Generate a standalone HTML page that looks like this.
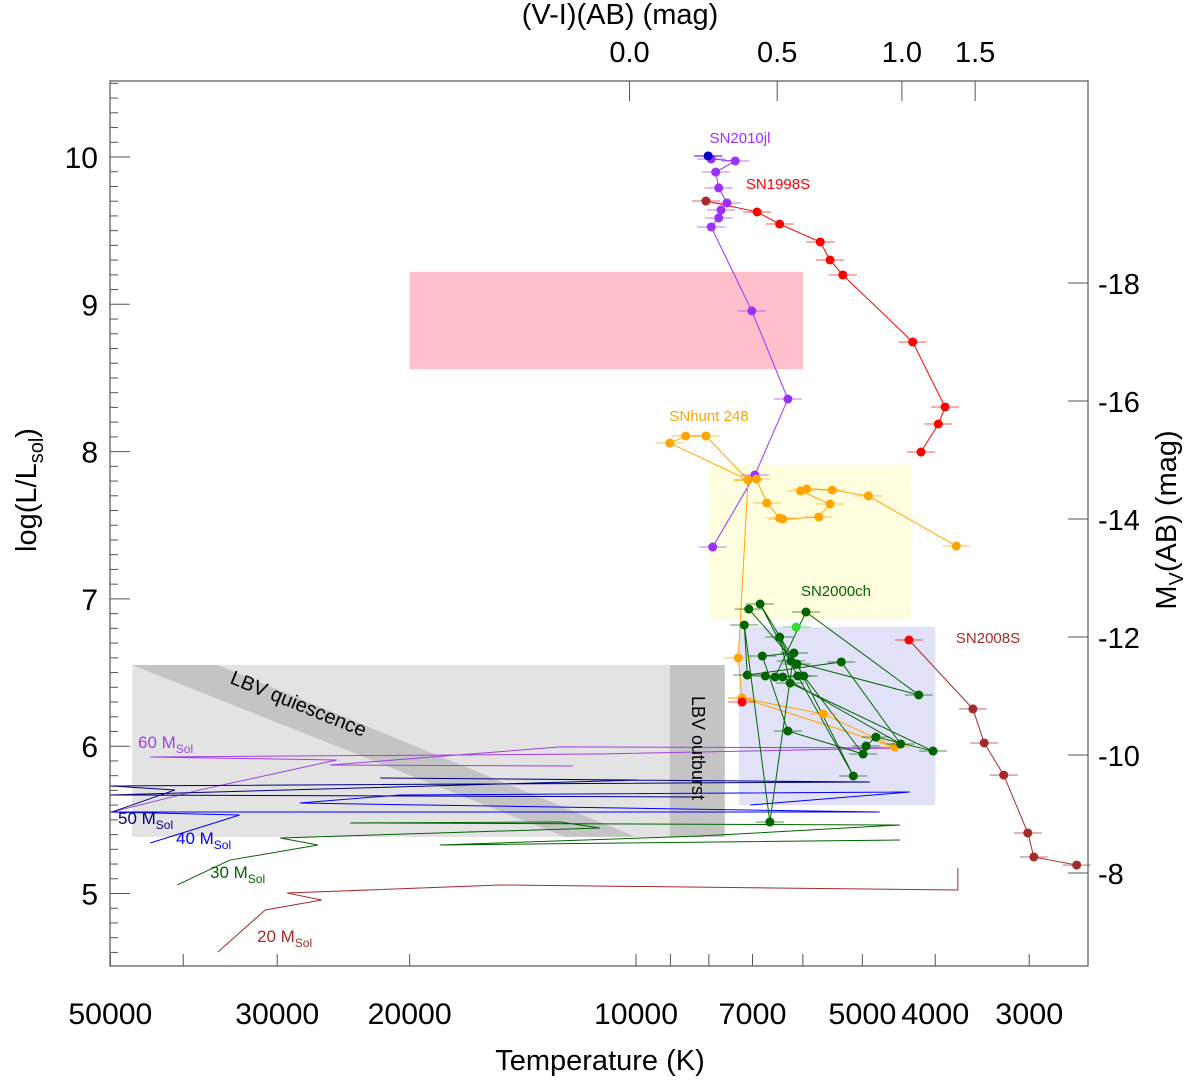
<!DOCTYPE html>
<html><head><meta charset="utf-8"><style>
body{margin:0;background:#fff;}
svg text{font-family:"Liberation Sans",sans-serif;}
</style></head><body>
<svg id="chart" width="1200" height="1081" viewBox="0 0 1200 1081" xmlns="http://www.w3.org/2000/svg">
<g id="regions"></g>
<g id="tracks"></g>
<g id="series"></g>
<g id="axes"></g>
<g id="labels"></g>
</svg>
<script>
// ---- data (log T, log L) ----
const sn2010jlT=[3.904,3.900,3.868,3.894,3.890,3.879,3.887,3.890,3.900,3.846,3.798,3.842,3.898];
const sn2010jlL=[10.007,9.986,9.973,9.898,9.79,9.688,9.64,9.586,9.525,8.955,8.357,7.841,7.352];
const sn1998sT=[3.907,3.839,3.809,3.755,3.742,3.725,3.632,3.589,3.598,3.621];
const sn1998sL=[9.701,9.627,9.545,9.423,9.301,9.199,8.744,8.303,8.187,7.997];
const snhuntT=[3.851,3.955,3.934,3.907,3.851,3.840,3.826,3.809,3.805,3.757,3.742,3.781,3.773,3.739,3.691,3.574];
const snhuntL=[7.807,8.058,8.106,8.106,7.807,7.814,7.651,7.549,7.542,7.556,7.644,7.733,7.746,7.739,7.699,7.359];
const snhunt2T=[3.851,3.864,3.859,3.751,3.656,3.859];
const snhunt2L=[7.807,6.599,6.327,6.219,5.995,6.327];
const sn2000chT=[3.850,3.786,3.711,3.785,3.835,3.777,3.698,3.798,3.832,3.790,3.822,3.856,3.852,3.727,3.648,3.805,3.828,3.815,3.774,3.624,3.794,3.809,3.795,3.605,3.681,3.694];
const sn2000chL=[6.931,6.558,5.798,6.477,6.965,6.477,5.947,6.103,6.612,6.633,5.485,6.823,6.483,6.572,6.015,6.47,6.477,6.47,6.911,6.348,6.578,6.741,6.429,5.967,6.062,6.001];
const sn2000chBrightT=[3.787]; const sn2000chBrightL=[6.809];
const sn2008sT=[3.637,3.552,3.537,3.511,3.479,3.471,3.414];
const sn2008sL=[6.721,6.253,6.022,5.804,5.411,5.248,5.193];
const extraRedT=[3.859]; const extraRedL=[6.30];
// tracks
const trk60T=[4.697,4.580,4.398,4.646,4.048,3.649,4.101,4.407,4.084];
const trk60L=[5.553,5.703,5.906,5.927,5.947,5.988,5.995,5.872,5.866];
const trk50T=[4.697,4.613,4.699,3.689,4.340,3.995,4.699,3.915];
const trk50L=[5.553,5.703,5.730,5.757,5.784,5.770,5.669,5.655];
const trk40T=[4.646,4.527,4.699,3.676,4.447,4.314,3.636,3.848];
const trk40L=[5.343,5.533,5.553,5.553,5.614,5.669,5.689,5.601];
const trk30T=[4.610,4.540,4.423,4.473,4.048,4.101,4.380,3.649,3.915,4.261,3.649];
const trk30L=[5.058,5.227,5.329,5.377,5.445,5.485,5.479,5.465,5.39,5.329,5.363];
const trk20T=[4.556,4.493,4.418,4.464,4.181,3.572,3.572];
const trk20L=[4.603,4.888,4.956,5.003,5.058,5.024,5.173];
// ticks
const leftTicks=[5,6,7,8,9,10];
const bottomTicks=[50000,40000,30000,20000,10000,9000,8000,7000,6000,5000,4000,3000];
const bottomLabels=["50000","","30000","20000","10000","","","7000","","5000","4000","3000"];
const rightTicks=[-18,-16,-14,-12,-10,-8];
const topLabels=["0.0","0.5","1.0","1.5"];
const topTickT=[10200,6490,4430,3540];

const X=lt=>636+(4-lt)*752;
const Y=l=>157+(10-l)*147.3;
const YM=m=>283+(m+18)*59;
const NS="http://www.w3.org/2000/svg";
function mk(tag,attrs,parent){const e=document.createElementNS(NS,tag);for(const k in attrs)e.setAttribute(k,attrs[k]);parent.appendChild(e);return e;}
const R=document.getElementById('regions'),TR=document.getElementById('tracks'),S=document.getElementById('series'),A=document.getElementById('axes'),LB=document.getElementById('labels');

function rect(t1,t2,l1,l2,fill,name){const r=mk('rect',{x:X(t1),y:Y(l1),width:X(t2)-X(t1),height:Y(l2)-Y(l1),fill:fill},R);

}
rect(4.301,3.778,9.22,8.56,'#ffc0cb','pink-region');
rect(3.903,3.634,7.91,6.86,'#ffffe0','yellow-region');
rect(3.863,3.602,6.81,5.60,'#e1e1f7','lavender-region');
rect(4.670,3.882,6.551,5.384,'#e3e3e3','lbv-region');
const band=mk('polygon',{points:`${X(4.670)},${Y(6.551)} ${X(4.556)},${Y(6.551)} ${X(4.0)},${Y(5.384)} ${X(4.094)},${Y(5.384)}`,fill:'#c4c4c4'},R);


rect(3.955,3.882,6.551,5.384,'#c4c4c4','lbv-outburst-band');

function poly(ts,ls,color,parent,name,w){const p=ts.map((t,i)=>X(t)+','+Y(ls[i])).join(' ');const e=mk('polyline',{points:p,fill:'none',stroke:color,'stroke-width':w||1},parent);

}
poly(trk60T,trk60L,'#a040e0',TR,'track-60');
poly(trk50T,trk50L,'#000080',TR,'track-50');
poly(trk40T,trk40L,'#0000ff',TR,'track-40');
poly(trk30T,trk30L,'#006400',TR,'track-30');
poly(trk20T,trk20L,'#a52a2a',TR,'track-20');

function pts(ts,ls,color,name,r){ts.forEach((t,i)=>{const x=X(t),y=Y(ls[i]);
const eb=mk('line',{x1:x-14,x2:x+14,y1:y,y2:y,stroke:color,'stroke-opacity':0.45,'stroke-width':1.5},S);


const c=mk('circle',{cx:x,cy:y,r:r||4.5,fill:color},S);

});}
poly(sn2010jlT,sn2010jlL,'#9b30ff',S,'sn2010jl-line');
poly(sn1998sT,sn1998sL,'#ff0000',S,'sn1998s-line');
poly(snhuntT,snhuntL,'#ffa500',S,'snhunt248-line');
poly(snhunt2T,snhunt2L,'#ffa500',S,'snhunt248-line-2');
poly(sn2000chT,sn2000chL,'#006400',S,'sn2000ch-line');
poly(sn2008sT,sn2008sL,'#a52a2a',S,'sn2008s-line');
pts(sn2010jlT,sn2010jlL,'#9b30ff','sn2010jl');
pts([3.904],[10.007],'#0000cc','sn2010jl-first');
pts(sn1998sT.slice(1),sn1998sL.slice(1),'#ff0000','sn1998s');
pts([3.907],[9.701],'#a52a2a','sn1998s-first');
pts(snhuntT,snhuntL,'#ffa500','snhunt248');
pts(snhunt2T,snhunt2L,'#ffa500','snhunt248b');
pts(sn2000chT,sn2000chL,'#006400','sn2000ch');
pts(sn2000chBrightT,sn2000chBrightL,'#33dd33','sn2000ch-bright');
pts(sn2008sT.slice(1),sn2008sL.slice(1),'#a52a2a','sn2008s');
pts([sn2008sT[0]],[sn2008sL[0]],'#ff0000','sn2008s-first');
pts(extraRedT,extraRedL,'#ff0000','red-extra');

// axes
const fr=mk('rect',{x:110,y:81,width:978,height:885,fill:'none',stroke:'#555','stroke-width':1.2},A);


for(let v=4.6;v<=10.5;v+=0.1){const y=Y(v);const major=Math.abs(v-Math.round(v))<0.01;
const t=mk('line',{x1:110,x2:110+(major?20:8),y1:y,y2:y,stroke:'#555'},A);

}
leftTicks.forEach(v=>{const t=mk('text',{x:98,y:Y(v)+11,'font-size':30,'text-anchor':'end'},A);t.textContent=v;

});
bottomTicks.forEach((T,i)=>{const x=X(Math.log10(T));
const t=mk('line',{x1:x,x2:x,y1:966,y2:954,stroke:'#555'},A);


if(bottomLabels[i]){const l=mk('text',{x:x,y:1024,'font-size':30,'text-anchor':'middle',textLength:84,lengthAdjust:'spacingAndGlyphs'},A);l.textContent=bottomLabels[i];
if(bottomLabels[i].length==4)l.setAttribute('textLength',68);

}});
rightTicks.forEach(m=>{const y=YM(m);
const t=mk('line',{x1:1068,x2:1088,y1:y,y2:y,stroke:'#555'},A);


const l=mk('text',{x:1098,y:y+11,'font-size':29},A);l.textContent=m;

});
topTickT.forEach((T,i)=>{const x=X(Math.log10(T));
const t=mk('line',{x1:x,x2:x,y1:81,y2:101,stroke:'#555'},A);


const l=mk('text',{x:x,y:62,'font-size':29,'text-anchor':'middle'},A);l.textContent=topLabels[i];

});

function txt(s,x,y,size,color,name,extra){const t=mk('text',Object.assign({x:x,y:y,'font-size':size,fill:color},extra||{}),LB);t.innerHTML=s;

return t;}
txt('Temperature (K)',600,1070,29,'#000','x-axis-title',{'text-anchor':'middle'});
txt('(V-I)(AB) (mag)',620,24,29,'#000','top-axis-title',{'text-anchor':'middle'});
txt('log(L/L<tspan font-size="20" dy="7">sol</tspan><tspan dy="-7">)</tspan>',0,0,29,'#000','y-axis-title',{'text-anchor':'middle',transform:'translate(36,490) rotate(-90)'});
txt('M<tspan font-size="20" dy="7">V</tspan><tspan dy="-7">(AB) (mag)</tspan>',0,0,29,'#000','right-axis-title',{'text-anchor':'middle',transform:'translate(1176,520) rotate(-90)'});
txt('SN2010jl',740,143,15,'#9b30ff','sn2010jl-label',{'text-anchor':'middle'});
txt('SN1998S',778,189,15,'#ff0000','sn1998s-label',{'text-anchor':'middle'});
txt('SNhunt 248',709,421,15,'#ffa500','snhunt248-label',{'text-anchor':'middle'});
txt('SN2000ch',836,596,15,'#006400','sn2000ch-label',{'text-anchor':'middle'});
txt('SN2008S',988,643,15,'#a52a2a','sn2008s-label',{'text-anchor':'middle'});
txt('LBV quiescence',0,0,20,'#000','lbv-quiescence-label',{'text-anchor':'middle',transform:'translate(296,710) rotate(22)'});
txt('LBV outburst',0,0,18,'#000','lbv-outburst-label',{'text-anchor':'middle',transform:'translate(692,748) rotate(90)'});
txt('60 M<tspan font-size="12" dy="5">Sol</tspan>',138,748,17,'#a040e0','track-60-label');
txt('50 M<tspan font-size="12" dy="5">Sol</tspan>',118,824,17,'#000080','track-50-label');
txt('40 M<tspan font-size="12" dy="5">Sol</tspan>',176,844,17,'#0000ff','track-40-label');
txt('30 M<tspan font-size="12" dy="5">Sol</tspan>',210,878,17,'#006400','track-30-label');
txt('20 M<tspan font-size="12" dy="5">Sol</tspan>',257,942,17,'#a52a2a','track-20-label');
</script>
</body></html>
